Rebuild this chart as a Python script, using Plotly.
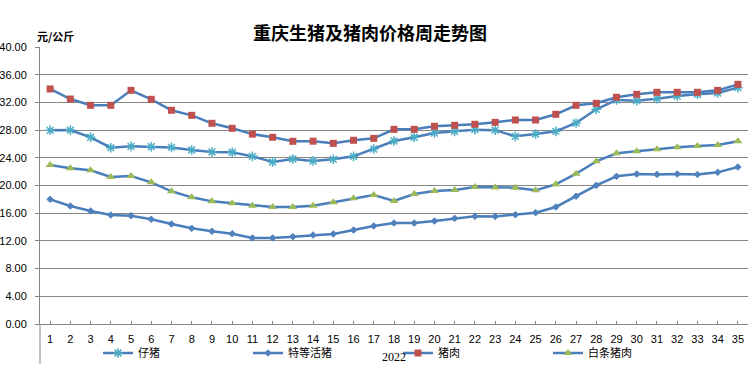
import plotly.graph_objects as go

weeks = [str(i) for i in range(1, 36)]

piglet = [27.97, 28.0, 26.96, 25.46, 25.65, 25.6, 25.5, 25.13, 24.84, 24.8,
          24.21, 23.39, 23.83, 23.54, 23.78, 24.21, 25.27, 26.43, 26.96, 27.58,
          27.82, 28.06, 27.99, 27.1, 27.44, 27.82, 29.03, 31.0, 32.35, 32.25,
          32.54, 32.92, 33.17, 33.36, 34.13]
live_hog = [18.0, 17.04, 16.32, 15.74, 15.64, 15.12, 14.44, 13.82, 13.38, 13.04,
            12.42, 12.42, 12.61, 12.85, 13.0, 13.57, 14.15, 14.58, 14.58, 14.87,
            15.26, 15.55, 15.53, 15.79, 16.08, 16.9, 18.44, 20.03, 21.33, 21.66,
            21.6, 21.66, 21.6, 21.9, 22.67]
pork = [33.94, 32.49, 31.58, 31.58, 33.74, 32.44, 30.86, 30.13, 28.98, 28.26,
        27.42, 26.96, 26.38, 26.4, 26.09, 26.53, 26.81, 28.11, 28.11, 28.55,
        28.69, 28.84, 29.12, 29.46, 29.46, 30.28, 31.58, 31.87, 32.74, 33.17,
        33.46, 33.46, 33.46, 33.74, 34.61]
carcass = [22.96, 22.48, 22.19, 21.23, 21.37, 20.46, 19.16, 18.29, 17.71, 17.42,
           17.09, 16.9, 16.9, 17.09, 17.57, 18.15, 18.63, 17.76, 18.77, 19.2,
           19.35, 19.79, 19.7, 19.69, 19.3, 20.17, 21.7, 23.49, 24.65, 24.94,
           25.23, 25.52, 25.7, 25.85, 26.38]

names = ["仔猪", "特等活猪", "猪肉", "白条猪肉"]
y_ticks = [0, 4, 8, 12, 16, 20, 24, 28, 32, 36, 40]

LINE = "#4A7EBB"
series = [
    (names[0], piglet, dict(symbol="asterisk-open", size=8, color="#4BACC6",
                            line=dict(color="#4BACC6", width=1.5))),
    (names[1], live_hog, dict(symbol="diamond", size=5, color="#4F81BD",
                              line=dict(color="#4F81BD", width=1))),
    (names[2], pork, dict(symbol="square", size=7, color="#C0504D",
                          line=dict(color="#C0504D", width=0))),
    (names[3], carcass, dict(symbol="triangle-up", size=8, color="#9BBB59",
                             line=dict(color="#9BBB59", width=0))),
]

fig = go.Figure()
for name, vals, mk in series:
    fig.add_trace(go.Scatter(x=weeks, y=vals, name=name, mode="lines+markers",
                             line=dict(color=LINE, width=2.5), marker=mk))

fig.update_layout(
    width=748, height=379,
    margin=dict(l=40, r=0, t=47, b=55, autoexpand=False),
    paper_bgcolor="white", plot_bgcolor="white",
    title=dict(text="<b>重庆生猪及猪肉价格周走势图</b>", x=370 / 748, xanchor="center",
               y=1 - 34 / 379, yanchor="middle",
               font=dict(family="Noto Sans CJK SC", size=18, color="black")),
    font=dict(family="Liberation Sans", size=11, color="black"),
    showlegend=True,
    legend=dict(orientation="h", xref="container", yref="container",
                x=98 / 748, xanchor="left", y=1 - 353 / 379, yanchor="middle",
                entrywidth=105, font=dict(family="Noto Sans CJK SC", size=11),
                bgcolor="rgba(0,0,0,0)"),
    xaxis=dict(type="category", range=[-0.5, 34.5], showgrid=False, automargin=False,
               showline=True, linecolor="#868686", linewidth=1,
               ticks="inside", ticklen=3, tickcolor="#868686", ticklabelstandoff=5,
               tickfont=dict(family="Liberation Sans", size=11), fixedrange=True),
    yaxis=dict(range=[0, 40], tickvals=y_ticks, tickformat=".2f", automargin=False,
               showgrid=True, gridcolor="#868686", gridwidth=1,
               showline=True, linecolor="#868686", linewidth=1,
               ticks="outside", ticklen=4, tickcolor="#868686", ticklabelstandoff=6,
               tickfont=dict(family="Liberation Sans", size=11), zeroline=False),
    annotations=[
        dict(text="<b>元/公斤</b>", xref="paper", yref="paper", x=-5 / 708, y=1 + 11 / 277,
             xanchor="left", yanchor="middle", showarrow=False,
             font=dict(family="Noto Sans CJK SC", size=11, color="black")),
        dict(text="2022", xref="paper", yref="paper", x=0.5, y=-33 / 277,
             xanchor="center", yanchor="middle", showarrow=False,
             font=dict(family="Liberation Serif", size=12, color="black")),
    ],
    shapes=[
        dict(type="line", xref="paper", yref="paper", x0=0, x1=0, y0=0, y1=-40 / 277,
             line=dict(color="#868686", width=1)),
    ],
)

fig.write_html("out.html", config={"displayModeBar": False},
               post_script="document.body.style.margin='0';")
